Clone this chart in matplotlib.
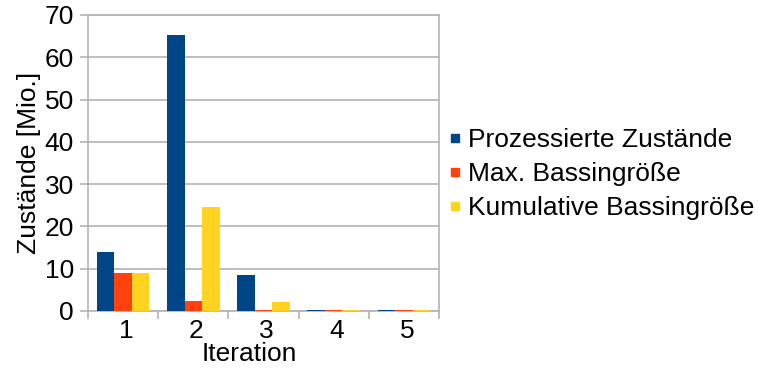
import matplotlib
matplotlib.use("Agg")
import matplotlib.pyplot as plt
import matplotlib.transforms as mtransforms
from matplotlib.lines import Line2D
import numpy as np

plt.rcParams['font.family'] = ['Liberation Sans', 'DejaVu Sans']

iterations = ["1", "2", "3", "4", "5"]
series_names = ["Prozessierte Zustände", "Max. Bassingröße", "Kumulative Bassingröße"]
prozessierte = [13.9, 65.2, 8.4, 0.2, 0.2]
max_bassin = [8.9, 2.3, 0.2, 0.2, 0.2]
kumulativ = [8.9, 24.5, 2.05, 0.2, 0.2]
colors = ["#004586", "#ff420e", "#ffd320"]
y_ticks = [0, 10, 20, 30, 40, 50, 60, 70]

FS = 19
W, H = 758, 370
fig = plt.figure(figsize=(W / 100, H / 100), dpi=100)
ax = fig.add_axes([88 / W, (H - 311) / H, (439 - 88) / W, (311 - 15) / H])

x = np.arange(1, len(iterations) + 1)
width = 0.25
for i, (vals, col) in enumerate(zip([prozessierte, max_bassin, kumulativ], colors)):
    ax.bar(x + (i - 1) * width, vals, width, color=col, zorder=3, linewidth=0)

grid_col = "#b3b3b3"
ax.set_xlim(0.5, 5.5)
ax.set_ylim(0, 70)
ax.set_yticks(y_ticks)
ax.yaxis.grid(True, color=grid_col, linewidth=1.2, zorder=0)
for s in ax.spines.values():
    s.set_color(grid_col)
    s.set_linewidth(1.2)

# category boundaries carry the tick marks, centres carry the labels
ax.set_xticks(np.arange(0.5, 6.0, 1.0))
ax.set_xticklabels([])
ax.set_xticks(x, minor=True)
ax.set_xticklabels(iterations, minor=True)
ax.tick_params(axis='x', which='major', length=6, color=grid_col, width=1.2)
ax.tick_params(axis='x', which='minor', length=0, pad=6, labelsize=FS)
ax.tick_params(axis='y', length=6, color=grid_col, width=1.2, pad=4, labelsize=FS)

# nudge category labels slightly to the right
shift = mtransforms.ScaledTranslation(3 / 100, 0, fig.dpi_scale_trans)
for lbl in ax.get_xticklabels(minor=True):
    lbl.set_transform(lbl.get_transform() + shift)

ax.set_ylabel("Zustände [Mio.]", fontsize=FS, labelpad=3)
ax.set_xlabel("Iteration", fontsize=FS, labelpad=-1, x=(249.5 - 88) / (439 - 88))

handles = [Line2D([], [], marker='s', linestyle='none', markersize=6,
                  markerfacecolor=c, markeredgecolor=c) for c in colors]
fig.legend(handles, series_names, loc='center left',
           bbox_to_anchor=(438 / W, (H - 174) / H), frameon=False,
           fontsize=FS, handlelength=0.5, handletextpad=0.25,
           labelspacing=0.38, borderaxespad=0)

fig.savefig("out.png", dpi=100)
